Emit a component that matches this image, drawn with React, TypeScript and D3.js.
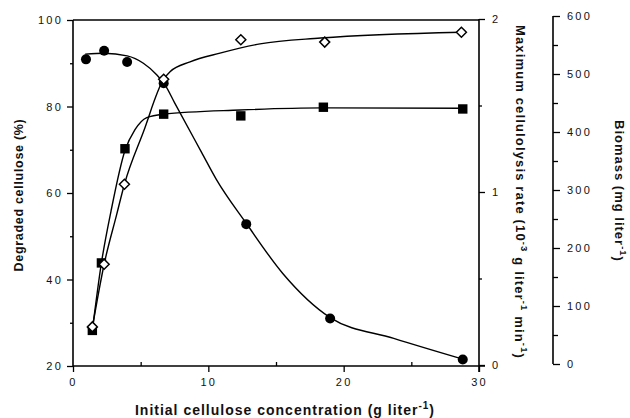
import * as d3 from 'd3';
import { useEffect, useRef } from 'react';

// measured points
const concCircle = [0.96, 2.3, 4.0, 6.7, 12.8, 19.0, 28.8];
const degraded = [90.9, 92.9, 90.3, 85.4, 52.8, 31.0, 21.5];
const concSquare = [1.43, 2.1, 3.84, 6.7, 12.4, 18.5, 28.8];
const maxRate = [0.2, 0.59, 1.25, 1.45, 1.44, 1.49, 1.48];
const concDiamond = [1.43, 2.3, 3.8, 6.7, 12.4, 18.6, 28.7];
const biomass = [64, 172, 310, 491, 559, 555, 572];

// fitted curves as drawn in the figure
const degradedFitX = [0.9, 2.3, 4.0, 5.2, 6.2, 6.8, 7.5, 9.5, 10.6, 12.8, 15.5, 19.0, 23.7, 28.8];
const degradedFitY = [92.1, 92.3, 91.7, 90.0, 87.3, 85.0, 80.9, 69.4, 63.1, 53.0, 41.4, 31.2, 26.4, 21.6];
const rateFitX = [1.43, 2.1, 2.81, 3.84, 4.58, 5.45, 6.67, 12.34, 18.47, 28.74];
const rateFitY = [0.2, 0.59, 0.89, 1.24, 1.36, 1.43, 1.45, 1.474, 1.486, 1.484];
const biomassFitX = [1.43, 2.3, 3.23, 3.8, 5.2, 6.7, 7.17, 8.65, 10.86, 13.82, 18.3, 28.7];
const biomassFitY = [63, 172, 258, 310, 400, 491, 504, 521, 536, 552, 562, 572];

// axis ticks
const xMajor = [0, 10, 20, 30];
const xMinor = [5, 15, 25];
const leftMajor = [20, 40, 60, 80, 100];
const leftMinor = [30, 50, 70, 90];
const rateMajor = [0, 1, 2];
const rateMinor = [0.5, 1.5];
const bioMajor = [0, 100, 200, 300, 400, 500, 600];
const bioMinor = [50, 150, 250, 350, 450, 550];

const W = 630;
const H = 418;
const FONT = '"Liberation Sans", Arial, Helvetica, sans-serif';

const x = d3.scaleLinear().domain([0, 30]).range([73, 479]);
const yLeft = d3.scaleLinear().domain([20, 100]).range([366, 20]);
const yRate = d3.scaleLinear().domain([0, 2]).range([365, 19]);
const yBio = d3.scaleLinear().domain([0, 600]).range([364, 16]);

function App() {
    const bottomRef = useRef(null);
    const bottomMinorRef = useRef(null);
    const leftRef = useRef(null);
    const leftMinorRef = useRef(null);
    const rateRef = useRef(null);
    const rateMinorRef = useRef(null);
    const bioRef = useRef(null);
    const bioMinorRef = useRef(null);

    useEffect(() => {
        const style = (sel) => {
            sel.select('.domain').remove();
            sel.selectAll('line').attr('stroke', '#000').attr('stroke-width', 1.3);
            sel.selectAll('text')
                .attr('font-family', FONT)
                .attr('font-size', 11)
                .attr('letter-spacing', 2.2)
                .attr('fill', '#111');
        };

        d3.select(bottomRef.current)
            .call(d3.axisBottom(x).tickValues(xMajor).tickSize(6).tickPadding(6).tickFormat(d3.format('d')))
            .call(style);
        d3.select(bottomMinorRef.current)
            .call(d3.axisTop(x).tickValues(xMinor).tickSize(4).tickFormat(() => ''))
            .call(style);
        d3.select(leftRef.current)
            .call(d3.axisLeft(yLeft).tickValues(leftMajor).tickSize(6).tickPadding(4))
            .call(style);
        d3.select(leftMinorRef.current)
            .call(d3.axisLeft(yLeft).tickValues(leftMinor).tickSize(3).tickFormat(() => ''))
            .call(style);
        d3.select(rateRef.current)
            .call(d3.axisRight(yRate).tickValues(rateMajor).tickSize(6).tickPadding(7).tickFormat(d3.format('d')))
            .call(style);
        d3.select(rateMinorRef.current)
            .call(d3.axisRight(yRate).tickValues(rateMinor).tickSize(3).tickFormat(() => ''))
            .call(style);
        d3.select(bioRef.current)
            .call(d3.axisRight(yBio).tickValues(bioMajor).tickSize(7).tickPadding(7))
            .call(style);
        d3.select(bioMinorRef.current)
            .call(d3.axisRight(yBio).tickValues(bioMinor).tickSize(5).tickFormat(() => ''))
            .call(style);
    }, []);

    const lineOf = (xs, ys, ys2) => d3.line()
        .x((d, i) => x(xs[i]))
        .y((d) => ys2(d))
        .curve(d3.curveMonotoneX)(ys);

    const lineStyle = { fill: 'none', stroke: '#000', strokeWidth: 1.4 };

    return <svg width={W} height={H} style={{ position: 'absolute', left: 0, top: 0, background: '#fff' }}>
        <rect width={W} height={H} fill='#fff' />

        {/* frame */}
        <line x1={x(0)} x2={x(30)} y1={yLeft(100)} y2={yLeft(100)} stroke='#000' strokeWidth={1.5} />
        <line x1={x(0)} x2={x(30) + 6} y1={yLeft(20)} y2={yLeft(20)} stroke='#000' strokeWidth={1.6} />
        <line x1={x(0)} x2={x(0)} y1={yLeft(100)} y2={yLeft(20)} stroke='#000' strokeWidth={1.6} />
        <line x1={x(30)} x2={x(30)} y1={yRate(2)} y2={yLeft(20) + 6} stroke='#000' strokeWidth={1.6} />
        <line x1={553} x2={553} y1={yBio(600)} y2={yBio(0)} stroke='#000' strokeWidth={1.6} />

        <g transform={`translate(0, ${yLeft(20)})`} ref={bottomRef}></g>
        <g transform={`translate(0, ${yLeft(20)})`} ref={bottomMinorRef}></g>
        <g transform={`translate(${x(0)}, 0)`} ref={leftRef}></g>
        <g transform={`translate(${x(0)}, 0)`} ref={leftMinorRef}></g>
        <g transform={`translate(${x(30)}, 0)`} ref={rateRef}></g>
        <g transform={`translate(${x(30)}, 0)`} ref={rateMinorRef}></g>
        <g transform={`translate(553, 0)`} ref={bioRef}></g>
        <g transform={`translate(553, 0)`} ref={bioMinorRef}></g>

        {/* fitted curves */}
        <path d={lineOf(rateFitX, rateFitY, yRate)} {...lineStyle} />
        <path d={lineOf(biomassFitX, biomassFitY, yBio)} {...lineStyle} />
        <path d={lineOf(degradedFitX, degradedFitY, yLeft)} {...lineStyle} />

        {/* markers */}
        {maxRate.map((v, i) =>
            <rect key={'s' + i} x={x(concSquare[i]) - 4.7} y={yRate(v) - 4.7} width={9.4} height={9.4} fill='#000' />
        )}
        {degraded.map((v, i) =>
            <circle key={'c' + i} cx={x(concCircle[i])} cy={yLeft(v)} r={5} fill='#000' />
        )}
        {biomass.map((v, i) => {
            const cx = x(concDiamond[i]);
            const cy = yBio(v);
            const r = 5;
            return <path key={'d' + i} d={`M${cx},${cy - r}L${cx + r},${cy}L${cx},${cy + r}L${cx - r},${cy}Z`}
                fill='#fff' stroke='#000' strokeWidth={1.5} />;
        })}

        {/* titles */}
        <text x={285} y={410} textAnchor='middle' dominantBaseline='central' fontFamily={FONT}
            fontWeight='bold' fontSize={14} letterSpacing={1.0} fill='#111'>
            Initial cellulose concentration (g liter<tspan fontSize={10} dy={-5}>-1</tspan><tspan dy={5}>)</tspan>
        </text>
        <text transform={`translate(19, 195) rotate(-90)`} textAnchor='middle' dominantBaseline='central'
            fontFamily={FONT} fontWeight='bold' fontSize={12.5} letterSpacing={0.7} fill='#111'>
            Degraded cellulose (%)
        </text>
        <text transform={`translate(520, 192) rotate(90)`} textAnchor='middle' dominantBaseline='central'
            fontFamily={FONT} fontWeight='bold' fontSize={13} letterSpacing={1.15} fill='#111'>
            Maximum cellulolysis rate (10<tspan fontSize={9.5} dy={-5}>-3</tspan><tspan dy={5}> g liter</tspan><tspan fontSize={9.5} dy={-5}>-1</tspan><tspan dy={5}> min</tspan><tspan fontSize={9.5} dy={-5}>-1</tspan><tspan dy={5}>)</tspan>
        </text>
        <text transform={`translate(619, 191) rotate(90)`} textAnchor='middle' dominantBaseline='central'
            fontFamily={FONT} fontWeight='bold' fontSize={13} letterSpacing={1.0} fill='#111'>
            Biomass (mg liter<tspan fontSize={9.5} dy={-5}>-1</tspan><tspan dy={5}>)</tspan>
        </text>
    </svg>;
}

export default App;
